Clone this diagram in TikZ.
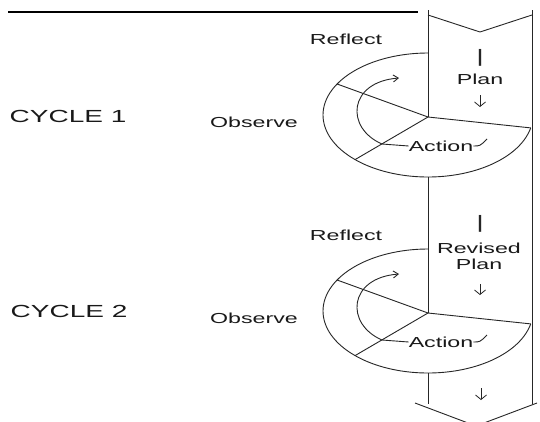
\documentclass[tikz,border=0pt]{standalone}
\usepackage{fontspec}
\setmainfont{Liberation Sans}[FakeStretch=1.6]
\usetikzlibrary{arrows.meta}
\tikzset{
  ln/.style={line width=0.9pt, black!85},
  lab/.style={font=\fontsize{14.5}{17}\selectfont, inner sep=0pt, text=black!90},
  cyc/.style={font=\fontsize{17.5}{20}\selectfont, inner sep=0pt, text=black!90},
  barlab/.style={font=\fontsize{18}{20}\selectfont, inner sep=0pt, text=black!85},
  arr/.style={ln, -{Straight Barb[length=5pt,width=7pt]}},
  dnarrow/.style={line width=0.8pt, black!85, -{Straight Barb[length=4.5pt,width=11pt]}}
}
\begin{document}
\begin{tikzpicture}[x=1pt,y=-1pt]
\useasboundingbox (0,0) rectangle (540,421);
\clip (0,0) rectangle (540,421);
\fill[white] (0,0) rectangle (540,421);
% top rule
\coordinate (tl) at (8,12);
\coordinate (tr) at (418,12);
\draw[line width=2pt] (tl) -- (tr);
% band coordinates
\coordinate (bl) at (428,10);
\coordinate (br) at (532,10);
\coordinate (c1) at (428,117);
\coordinate (c2) at (428,313);
\coordinate (b1) at (428,177);
\coordinate (b2) at (428,373);
\coordinate (bend) at (428,404);
\coordinate (brend) at (532,404);
% top chevron
\coordinate (tcl) at (428,15);
\coordinate (tct) at (480,32);
\coordinate (tcr) at (532,15);
\draw[ln] (tcl) -- (tct) -- (tcr);
% bottom chevron
\coordinate (bcl) at (415,403);
\coordinate (bct) at (476,426);
\coordinate (bcr) at (537,403);
\draw[ln] (bcl) -- (bct) -- (bcr);
% band edges
\draw[ln] (bl) -- (c1);
\draw[ln] (b1) -- (c2);
\draw[ln] (b2) -- (bend);
\draw[ln] (br) -- (brend);
% ---- cycle 1 ----
\draw[ln] plot[domain=12:270, samples=90, smooth] ({428+105*cos(\x)},{115+62*sin(\x)});
\coordinate (r1) at ({428+105*cos(12)},{115+62*sin(12)});
\coordinate (ul1) at ({428+105*cos(210)},{115+62*sin(210)});
\coordinate (ll1) at ({428+105*cos(134)},{115+62*sin(134)});
\draw[ln] (c1) -- (r1);
\draw[ln] (c1) -- (ul1);
\draw[ln] (c1) -- (ll1);
\coordinate (ia1) at (382,144);
\coordinate (ie1) at (399,78);
\draw[arr] (ia1) .. controls (345,128) and (348,82) .. (ie1);
\node[lab] (act1) at (441,146) {Action};
\coordinate (tk1) at (487,139);
\draw[ln] (ia1) -- (act1.west);
\draw[ln] (act1.east) .. controls (480,146) .. (tk1);
\node[lab] (ref1) at (346,39) {Reflect};
\node[lab] (obs1) at (254,122) {Observe};
\node[cyc] (cy1) at (68,116) {CYCLE 1};
\node[barlab] (bar1) at (480,58) {|};
\node[lab] (plan1) at (480,79) {Plan};
\coordinate (d1a) at (480,95);
\coordinate (d1b) at (480,107);
\draw[dnarrow] (d1a) -- (d1b);
% ---- cycle 2 ----
\draw[ln] plot[domain=12:270, samples=90, smooth] ({428+105*cos(\x)},{311+62*sin(\x)});
\coordinate (r2) at ({428+105*cos(12)},{311+62*sin(12)});
\coordinate (ul2) at ({428+105*cos(210)},{311+62*sin(210)});
\coordinate (ll2) at ({428+105*cos(134)},{311+62*sin(134)});
\draw[ln] (c2) -- (r2);
\draw[ln] (c2) -- (ul2);
\draw[ln] (c2) -- (ll2);
\coordinate (ia2) at (382,340);
\coordinate (ie2) at (399,274);
\draw[arr] (ia2) .. controls (345,324) and (348,278) .. (ie2);
\node[lab] (act2) at (441,342) {Action};
\coordinate (tk2) at (487,335);
\draw[ln] (ia2) -- (act2.west);
\draw[ln] (act2.east) .. controls (480,342) .. (tk2);
\node[lab] (ref2) at (346,235) {Reflect};
\node[lab] (obs2) at (254,318) {Observe};
\node[cyc] (cy2) at (69,311) {CYCLE 2};
\node[barlab] (bar2) at (480,224) {|};
\node[lab] (rev2) at (479,248) {Revised};
\node[lab] (plan2) at (479,264) {Plan};
\coordinate (d2a) at (480,284);
\coordinate (d2b) at (480,295);
\draw[dnarrow] (d2a) -- (d2b);
\coordinate (d3a) at (481,388);
\coordinate (d3b) at (481,400);
\draw[dnarrow] (d3a) -- (d3b);
\end{tikzpicture}
\end{document}
